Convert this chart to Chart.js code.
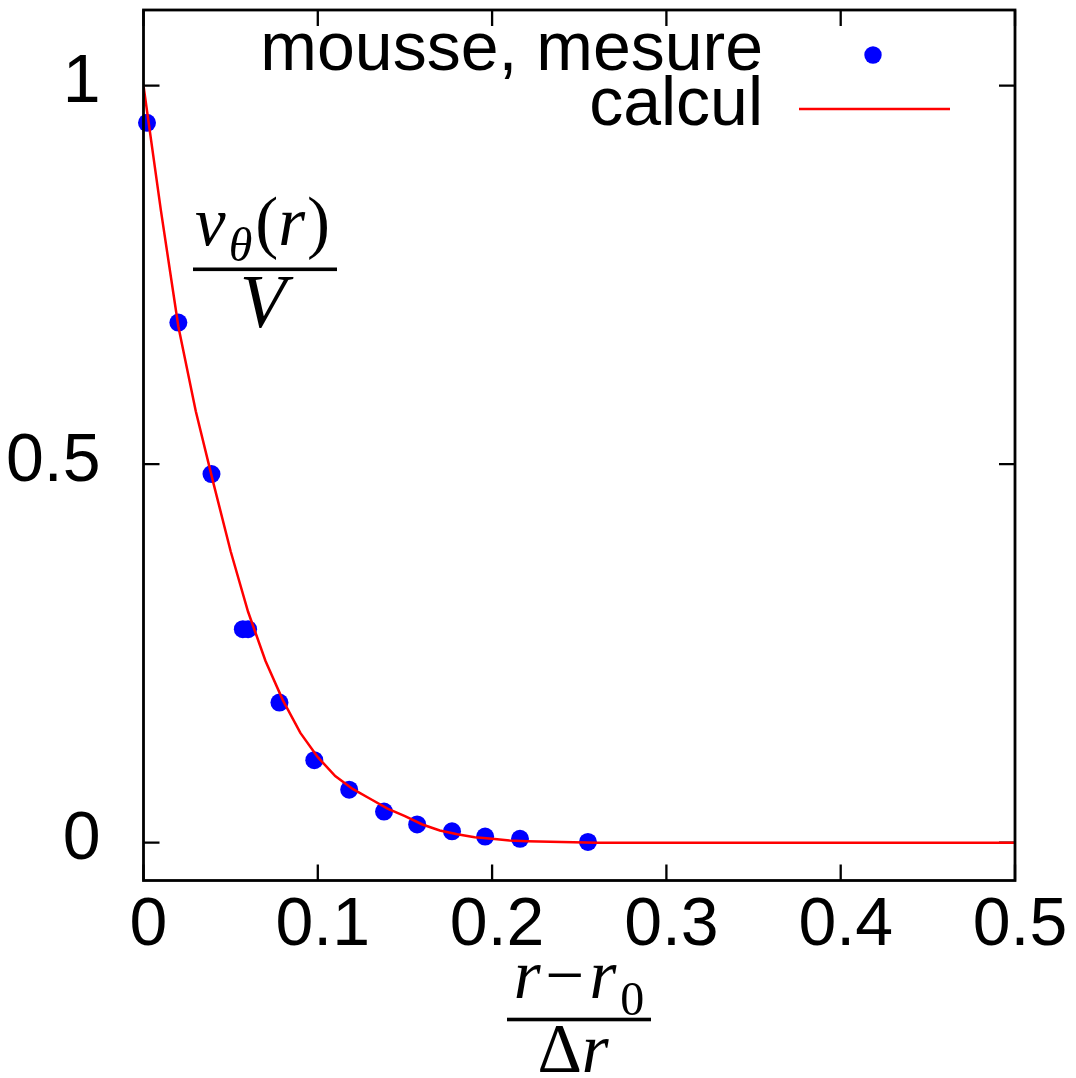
<!DOCTYPE html>
<html><head><meta charset="utf-8">
<script src="https://cdn.jsdelivr.net/npm/chart.js@4.4.0/dist/chart.umd.min.js"></script>
<style>html,body{margin:0;padding:0;background:#fff;overflow:hidden}#wrap{position:relative;width:1076px;height:1078px}canvas{display:block}</style>
</head><body><div id="wrap"><canvas id="c" width="1076" height="1078"></canvas></div>
<script>
// ---- data ----
const measureX = [0.002, 0.020, 0.039, 0.057, 0.060, 0.078, 0.098, 0.118, 0.138, 0.157, 0.177, 0.196, 0.216, 0.255];
const measureY = [0.951, 0.687, 0.487, 0.282, 0.282, 0.185, 0.109, 0.070, 0.041, 0.024, 0.015, 0.008, 0.005, 0.001];
const calcX = [0, 0.01, 0.02, 0.03, 0.04, 0.05, 0.06, 0.07, 0.08, 0.09, 0.10, 0.11, 0.12, 0.13, 0.14, 0.15, 0.16, 0.17, 0.18, 0.19, 0.20, 0.21, 0.22, 0.24, 0.26, 0.30, 0.40, 0.50];
const calcY = [1.0, 0.835, 0.682, 0.570, 0.476, 0.385, 0.305, 0.240, 0.188, 0.145, 0.113, 0.088, 0.071, 0.058, 0.045, 0.035, 0.024, 0.016, 0.011, 0.007, 0.005, 0.003, 0.002, 0.001, 0.0, 0.0, 0.0, 0.0];
const xTickValues = [0, 0.1, 0.2, 0.3, 0.4, 0.5];
const xTickLabels = ['0', '0.1', '0.2', '0.3', '0.4', '0.5'];
const yTickValues = [0, 0.5, 1];
const yTickLabels = ['0', '0.5', '1'];
const seriesLabels = ['mousse, mesure', 'calcul'];
const seriesColors = ['#0000ff', '#ff0000'];

const SANS = '"Liberation Sans", Arial, sans-serif';
const SERIF = '"Liberation Serif", "Times New Roman", serif';

function drawRun(ctx, x, baseline, segs) {
  let cx = x;
  segs.forEach(s => {
    ctx.font = s.font;
    ctx.fillText(s.t, cx, baseline + (s.dy || 0));
    cx += ctx.measureText(s.t).width + (s.gap || 0);
  });
  return cx;
}
function runWidth(ctx, segs) {
  let w = 0;
  segs.forEach(s => { ctx.font = s.font; w += ctx.measureText(s.t).width + (s.gap || 0); });
  return w;
}
function zeroPad(s) { s.paddingTop = 0; s.paddingBottom = 0; s.paddingLeft = 0; s.paddingRight = 0; }

const framePlugin = {
  id: 'frame',
  beforeDatasetsDraw(chart) {
    const { ctx, chartArea: a, scales: { x, y } } = chart;
    ctx.save();
    ctx.strokeStyle = '#000';
    ctx.lineWidth = 2.3;
    ctx.beginPath();
    xTickValues.forEach(v => {
      const px = x.getPixelForValue(v);
      ctx.moveTo(px, a.bottom); ctx.lineTo(px, a.bottom - 16);
      ctx.moveTo(px, a.top); ctx.lineTo(px, a.top + 16);
    });
    yTickValues.forEach(v => {
      const py = y.getPixelForValue(v);
      ctx.moveTo(a.left, py); ctx.lineTo(a.left + 16, py);
      ctx.moveTo(a.right, py); ctx.lineTo(a.right - 16, py);
    });
    ctx.stroke();
    ctx.restore();
  },
  afterDatasetsDraw(chart) {
    const { ctx, chartArea: a } = chart;
    ctx.save();
    ctx.strokeStyle = '#000';
    ctx.lineWidth = 2.8;
    ctx.strokeRect(a.left, a.top, a.right - a.left, a.bottom - a.top);
    ctx.restore();
  },
  afterDraw(chart) {
    const ctx = chart.ctx;
    ctx.save();
    ctx.fillStyle = '#000';
    ctx.textBaseline = 'alphabetic';
    // legend
    ctx.font = '68px ' + SANS;
    ctx.textAlign = 'right';
    ctx.fillText(seriesLabels[0], 763, 70);
    ctx.fillText(seriesLabels[1], 763, 125);
    ctx.fillStyle = seriesColors[0];
    ctx.beginPath(); ctx.arc(873, 55, 8.7, 0, Math.PI * 2); ctx.fill();
    ctx.strokeStyle = seriesColors[1]; ctx.lineWidth = 2.5;
    ctx.beginPath(); ctx.moveTo(799, 109); ctx.lineTo(950, 109); ctx.stroke();

    // y-axis label: v_theta(r) / V
    ctx.fillStyle = '#000';
    ctx.textAlign = 'left';
    const it = 'italic 69px ' + SERIF, up = '69px ' + SERIF, sub = 'italic 48px ' + SERIF;
    drawRun(ctx, 195, 245, [
      { t: 'v', font: it, gap: 3 },
      { t: 'θ', font: sub, dy: 16, gap: 3 },
      { t: '(', font: up },
      { t: 'r', font: it, gap: 2 },
      { t: ')', font: up }
    ]);
    ctx.fillRect(193, 267.5, 144, 3.6);
    const vSegs = [{ t: 'V', font: 'italic 76px ' + SERIF }];
    drawRun(ctx, 263 - runWidth(ctx, vSegs) / 2, 327, vSegs);

    // x-axis label: (r - r0) / Δr
    const nSegs = [
      { t: 'r', font: it, gap: 5 },
      { t: '\u2212', font: up, gap: 5 },
      { t: 'r', font: it, gap: 4 },
      { t: '0', font: '48px ' + SERIF, dy: 17 }
    ];
    drawRun(ctx, 579 - runWidth(ctx, nSegs) / 2, 998, nSegs);
    ctx.fillRect(507, 1017.7, 144, 3.6);
    const dSegs = [{ t: 'Δ', font: up }, { t: 'r', font: it }];
    drawRun(ctx, 573 - runWidth(ctx, dSegs) / 2, 1072, dSegs);
    ctx.restore();
  }
};

new Chart(document.getElementById('c'), {
  type: 'scatter',
  data: {
    datasets: [
      {
        label: seriesLabels[1],
        type: 'line',
        data: calcX.map((v, i) => ({ x: v, y: calcY[i] })),
        borderColor: seriesColors[1],
        borderWidth: 2.5,
        pointRadius: 0,
        fill: false,
        tension: 0,
        order: 1
      },
      {
        label: seriesLabels[0],
        data: measureX.map((v, i) => ({ x: v, y: measureY[i] })),
        backgroundColor: seriesColors[0],
        borderWidth: 0,
        pointRadius: 9,
        pointHoverRadius: 9,
        clip: false,
        order: 2
      }
    ]
  },
  options: {
    responsive: false,
    animation: false,
    devicePixelRatio: 1,
    layout: { padding: { top: 10, right: 61, left: 0, bottom: 0 } },
    plugins: { legend: { display: false }, tooltip: { enabled: false } },
    scales: {
      x: {
        type: 'linear', position: 'bottom', min: 0, max: 0.5,
        grid: { display: false }, border: { display: false },
        afterBuildTicks: s => { s.ticks = xTickValues.map(v => ({ value: v })); },
        afterFit: s => { s.height = 197.5; zeroPad(s); },
        ticks: {
          color: '#000', padding: -3, labelOffset: 5, maxRotation: 0, autoSkip: false,
          font: { family: SANS, size: 68 },
          callback: v => xTickLabels[xTickValues.indexOf(v)]
        }
      },
      y: {
        type: 'linear', position: 'left', min: -0.05, max: 1.1,
        grid: { display: false }, border: { display: false },
        afterBuildTicks: s => { s.ticks = yTickValues.map(v => ({ value: v })); },
        afterFit: s => { s.width = 143.5; zeroPad(s); },
        ticks: {
          color: '#000', padding: 35, labelOffset: -2, autoSkip: false,
          font: { family: SANS, size: 68 },
          callback: v => yTickLabels[yTickValues.indexOf(v)]
        }
      }
    }
  },
  plugins: [framePlugin]
});
</script></body></html>
